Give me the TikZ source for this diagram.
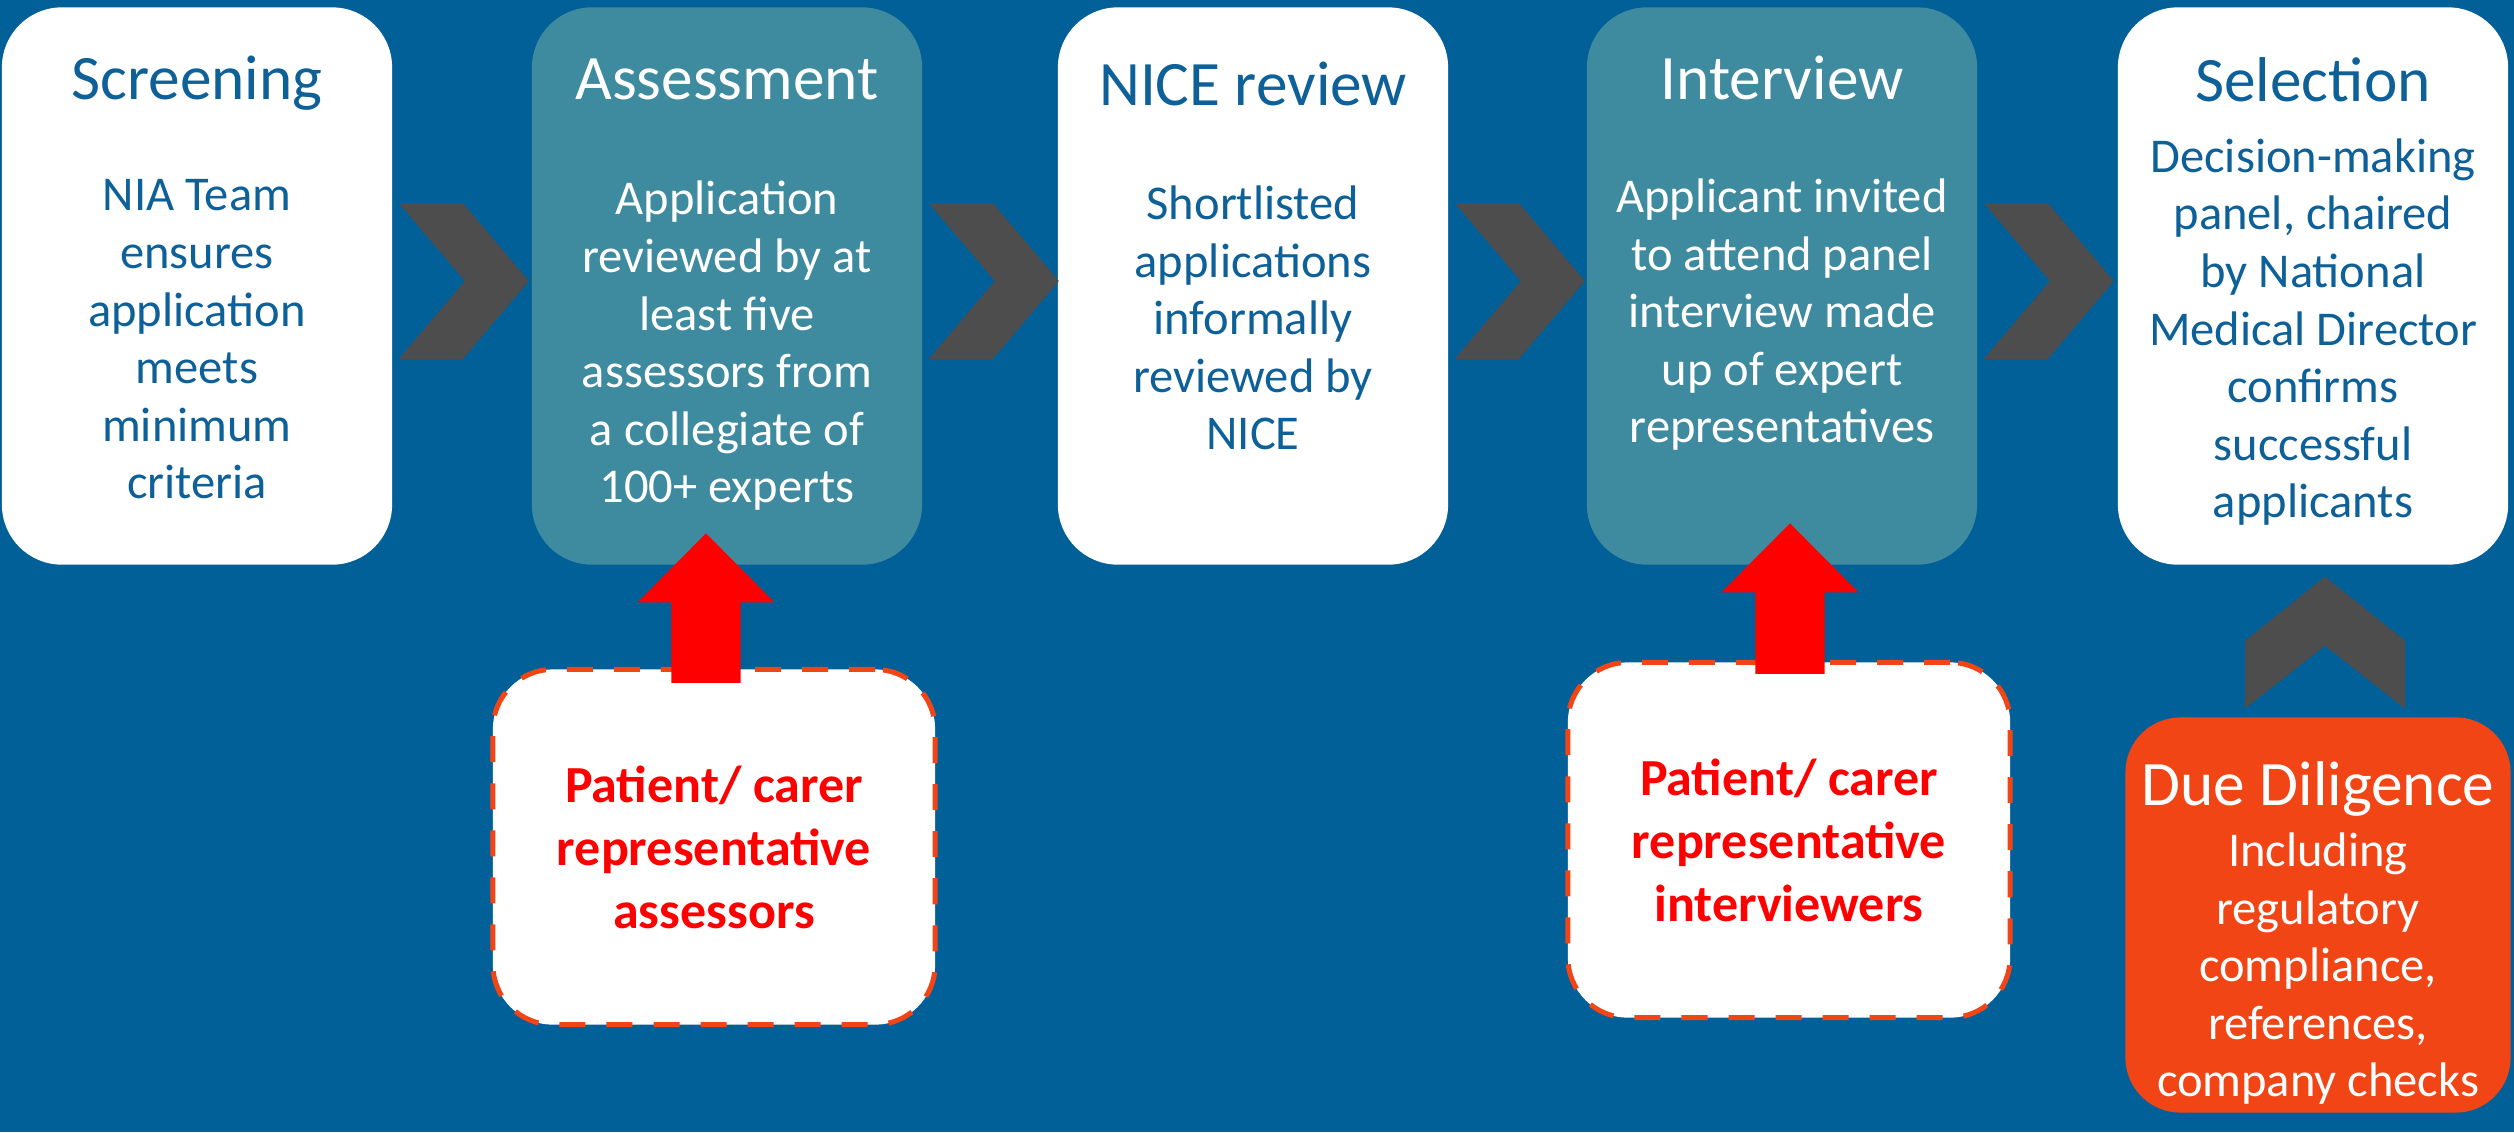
\documentclass[tikz,border=0pt]{standalone}
\usepackage{fontspec}
\setmainfont{Carlito}
\usetikzlibrary{calc}

\definecolor{bgblue}{RGB}{2,96,153}
\definecolor{tealbox}{RGB}{62,138,158}
\definecolor{stepblue}{RGB}{14,96,152}
\definecolor{chevgray}{RGB}{77,77,77}
\definecolor{duered}{RGB}{242,69,22}
\definecolor{pcred}{RGB}{255,0,0}

\tikzset{
  stepbox/.style={rounded corners=0.6cm, minimum width=3.9cm, minimum height=5.57cm, inner sep=0pt},
  whitestep/.style={stepbox, fill=white},
  tealstep/.style={stepbox, fill=tealbox},
  steptitle/.style={anchor=base, inner sep=0pt, font=\fontsize{18}{22}\selectfont},
  % anchor=base sits on the last line
  stepbody/.style={anchor=base, inner sep=0pt, align=center, font=\fontsize{13.8}{16.36}\selectfont},
  pcbox/.style={draw=duered, fill=white, line width=0.05cm, dash pattern=on 0.26cm off 0.21cm,
    rounded corners=0.6cm, minimum width=4.42cm, minimum height=3.55cm, inner sep=0pt,
    text=pcred, align=center, font=\bfseries\fontsize{14.8}{17.9}\selectfont},
  chev/.style={fill=chevgray},
}

\begin{document}
\begin{tikzpicture}[x=0.01cm,y=-0.01cm]
  % Background
  \fill[bgblue] (0,0) rectangle (2514,1132);
  \useasboundingbox (0,0) rectangle (2514,1132);

  % Steps
  \node[whitestep] (scr)  at (197,286)  {};
  \node[tealstep]  (ass)  at (727,286)  {};
  \node[whitestep] (nice) at (1253,286) {};
  \node[tealstep]  (intv) at (1782,286) {};
  \node[whitestep] (sel)  at (2313,286) {};

  % Titles and texts
  \node[steptitle, text=stepblue] (scrT) at ($(scr.north)+(0,93)$) {Screening};
  \node[stepbody, text=stepblue] (scrB) at ($(scr.north)+(0,492)$)
    {NIA Team\\ensures\\application\\meets\\minimum\\criteria};

  \node[steptitle, text=white] (assT) at ($(ass.north)+(0,93)$) {Assessment};
  \node[stepbody, text=white] (assB) at ($(ass.north)+(0,496)$)
    {Application\\reviewed by at\\least five\\assessors from\\a collegiate of\\100+ experts};

  \node[steptitle, text=stepblue] (niceT) at ($(nice.north)+(0,99)$) {NICE review};
  \node[stepbody, text=stepblue] (niceB) at ($(nice.north)+(0,443)$)
    {Shortlisted\\applications\\informally\\reviewed by\\NICE};

  \node[steptitle, text=white] (intvT) at ($(intv.north)+(0,93)$) {Interview};
  \node[stepbody, text=white] (intvB) at ($(intv.north)+(0,436)$)
    {Applicant invited\\to attend panel\\interview made\\up of expert\\representatives};

  \node[steptitle, text=stepblue] (selT) at ($(sel.north)+(0,95)$) {Selection};
  \node[stepbody, text=stepblue] (selB) at ($(sel.north)+(0,511)$)
    {Decision-making\\panel, chaired\\by National\\Medical Director\\confirms\\successful\\applicants};

  % Chevrons between the steps
  \foreach \a in {scr,ass,nice,intv}
    \fill[chev] ($(\a.east)+(6,-83)$) -- ++(64,0) -- ++(66,78) -- ++(-66,78)
      -- ++(-64,0) -- ++(66,-78) -- cycle;

  % Patient / carer boxes
  \node[pcbox] (pcA) at (714,847) {Patient/ carer\\representative\\assessors};
  \node[pcbox] (pcB) at (1789,840) {Patient/ carer\\representative\\interviewers};

  % Due diligence
  \node[rounded corners=0.55cm, fill=duered, minimum width=3.85cm, minimum height=3.95cm,
    inner sep=0pt] (due) at (2318,915) {};
  \node[steptitle, text=white] (dueT) at ($(due.north)+(0,89)$) {Due Diligence};
  \node[stepbody, text=white] (dueB) at ($(due.north)+(0,380)$)
    {Including\\regulatory\\compliance,\\references,\\company checks};

  % Up chevron from due diligence to selection
  \coordinate (dd) at ($(due.north)+(7,-8)$);
  \fill[chev] ($(dd)+(-80,0)$) -- ++(0,-68) -- ++(80,-64) -- ++(80,64) -- ++(0,68)
    -- ++(-80,-63) -- cycle;

  % Red arrows
  \coordinate (aBot) at ($(pcA.north)+(-8,16)$);
  \coordinate (aTip) at ($(ass.south)+(-21,-32)$);
  \coordinate (bBot) at ($(pcB.north)+(1,14)$);
  \coordinate (bTip) at ($(intv.south)+(8,-42)$);
  \foreach \bot/\tip in {aBot/aTip, bBot/bTip}
    \fill[pcred] let \p1=(\bot), \p2=(\tip) in
      (\x2-0.345cm,\y1) -- (\x2-0.345cm,\y2-0.69cm) -- (\x2-0.685cm,\y2-0.69cm) -- (\p2)
      -- (\x2+0.685cm,\y2-0.69cm) -- (\x2+0.345cm,\y2-0.69cm) -- (\x2+0.345cm,\y1) -- cycle;
\end{tikzpicture}
\end{document}
